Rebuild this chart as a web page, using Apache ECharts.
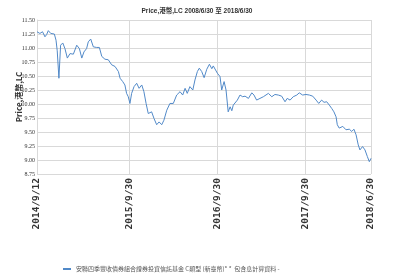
<!DOCTYPE html>
<html>
<head>
<meta charset="utf-8">
<script src="https://cdn.jsdelivr.net/npm/echarts@6/dist/echarts.min.js"></script>
<style>
  html, body { margin: 0; padding: 0; background: #fff; }
  #chart { width: 394px; height: 277px; }
</style>
</head>
<body>
<div id="chart"></div>
<script>
// 日期（X軸）
const dates = [
  '2014-09-12','2014-09-17','2014-09-24','2014-10-05','2014-10-15','2014-10-22','2014-10-29','2014-11-08',
  '2014-11-16','2014-11-23','2014-11-30','2014-12-05','2014-12-12','2014-12-19','2014-12-28','2015-01-06',
  '2015-01-16','2015-01-27','2015-02-10','2015-02-24','2015-03-07','2015-03-17','2015-03-26','2015-04-06',
  '2015-04-13','2015-04-23','2015-05-04','2015-05-18','2015-05-29','2015-06-08','2015-06-21','2015-07-05',
  '2015-07-19','2015-08-02','2015-08-16','2015-08-23','2015-09-03','2015-09-12','2015-09-19','2015-09-26',
  '2015-10-03','2015-10-10','2015-10-20','2015-10-31','2015-11-10','2015-11-21','2015-11-30','2015-12-09',
  '2015-12-18','2016-01-01','2016-01-11','2016-01-22','2016-02-01','2016-02-12','2016-02-21','2016-03-04',
  '2016-03-17','2016-03-31','2016-04-14','2016-04-28','2016-05-09','2016-05-19','2016-05-28','2016-06-08',
  '2016-06-20','2016-06-29','2016-07-09','2016-07-17','2016-07-27','2016-08-06','2016-08-17','2016-08-28',
  '2016-09-07','2016-09-13','2016-09-20','2016-09-30','2016-10-11','2016-10-18','2016-10-28','2016-11-05',
  '2016-11-14','2016-11-22','2016-11-29','2016-12-05','2016-12-12','2016-12-22','2017-01-02','2017-01-13',
  '2017-01-23','2017-02-06','2017-02-20','2017-03-01','2017-03-12','2017-03-26','2017-04-09','2017-04-30',
  '2017-05-14','2017-05-27','2017-06-10','2017-06-24','2017-07-08','2017-07-17','2017-07-29','2017-08-11',
  '2017-08-26','2017-09-05','2017-09-19','2017-10-03','2017-10-17','2017-10-31','2017-11-14','2017-11-25',
  '2017-12-07','2017-12-17','2017-12-28','2018-01-08','2018-01-18','2018-01-27','2018-02-05','2018-02-10',
  '2018-02-18','2018-03-05','2018-03-18','2018-04-01','2018-04-11','2018-04-20','2018-04-29','2018-05-08',
  '2018-05-15','2018-05-26','2018-06-05','2018-06-15','2018-06-23','2018-06-30'
];
// 價格
const prices = [
  11.29,11.32,11.26,11.29,11.20,11.24,11.31,11.26,
  11.27,11.25,11.14,10.95,10.46,11.05,11.09,10.99,
  10.82,10.90,10.89,11.05,10.99,10.82,10.93,10.99,
  11.11,11.16,11.02,11.01,11.01,10.85,10.80,10.79,
  10.70,10.67,10.58,10.46,10.40,10.34,10.19,10.13,
  10.01,10.19,10.31,10.37,10.28,10.34,10.22,10.01,
  9.83,9.86,9.74,9.63,9.68,9.63,9.71,9.89,
  10.01,10.01,10.16,10.22,10.16,10.28,10.19,10.31,
  10.25,10.43,10.58,10.64,10.58,10.47,10.62,10.71,
  10.63,10.68,10.67,10.55,10.49,10.25,10.40,10.25,
  9.86,9.95,9.88,9.98,10.01,10.07,10.16,10.13,
  10.14,10.10,10.20,10.16,10.07,10.10,10.13,10.19,
  10.13,10.17,10.16,10.14,10.04,10.10,10.07,10.13,
  10.16,10.20,10.16,10.17,10.16,10.14,10.07,10.01,
  10.07,10.03,10.04,9.98,9.92,9.86,9.77,9.63,
  9.57,9.60,9.54,9.55,9.51,9.55,9.45,9.27,
  9.18,9.24,9.18,9.06,8.97,9.03
];
// X軸標籤
const xTicks = ['2014-09-12','2015-09-30','2016-09-30','2017-09-30','2018-06-30'];
const seriesName = '安聯四季豐收債券組合證券投資信託基金 C類型 (新臺幣)* *  包含息計算資料 -';

const toTs = s => Date.parse(s + 'T00:00:00Z');
const xTickTs = xTicks.map(toTs);
const fmtDate = v => {
  const d = new Date(v);
  return d.getUTCFullYear() + '/' + (d.getUTCMonth() + 1) + '/' + d.getUTCDate();
};

let chart = echarts.init(document.getElementById('chart'));
let option = {
  animation: false,
  title: {
    text: 'Price,港幣,LC 2008/6/30 至 2018/6/30',
    left: 'center',
    top: 3,
    textStyle: { fontSize: 6.5, fontWeight: 'bold', color: '#333', fontFamily: 'Liberation Sans Narrow, Liberation Sans, Noto Sans CJK TC' }
  },
  legend: {
    left: 58,
    top: 261,
    itemWidth: 8,
    itemHeight: 2,
    icon: 'rect',
    itemGap: 2,
    textStyle: { fontSize: 6, color: '#555', fontFamily: 'Noto Sans CJK TC' },
    data: [seriesName]
  },
  grid: { left: 37, right: 23, top: 20, bottom: 103 },
  xAxis: {
    type: 'value',
    min: xTickTs[0],
    max: xTickTs[xTickTs.length - 1],
    axisLine: { show: false },
    axisTick: { show: false, customValues: xTickTs },
    splitLine: { show: true, lineStyle: { color: '#d9d9d9', width: 1 } },
    axisLabel: {
      customValues: xTickTs,
      rotate: 90,
      margin: 4,
      fontSize: 9.5,
      fontWeight: 'bold',
      color: '#333',
      fontFamily: 'DejaVu Sans Mono',
      formatter: fmtDate
    }
  },
  yAxis: {
    type: 'value',
    min: 8.75,
    max: 11.5,
    interval: 0.25,
    name: 'Price,港幣,LC',
    nameLocation: 'middle',
    nameGap: 14,
    nameMoveOverlap: false,
    nameTextStyle: { fontSize: 8, fontWeight: 'bold', color: '#333', fontFamily: 'Noto Sans CJK TC' },
    axisLine: { show: true, lineStyle: { color: '#d9d9d9' } },
    axisTick: { show: false },
    splitLine: { lineStyle: { color: '#d9d9d9', width: 1 } },
    axisLabel: {
      fontSize: 6,
      margin: 2,
      color: '#333',
      fontFamily: 'Liberation Serif',
      formatter: v => v.toFixed(2)
    }
  },
  series: [{
    name: seriesName,
    type: 'line',
    symbol: 'none',
    lineStyle: { color: '#5189c8', width: 1 },
    itemStyle: { color: '#5189c8' },
    data: dates.map((d, i) => [toTs(d), prices[i]])
  }]
};
chart.setOption(option);
</script>
</body>
</html>
